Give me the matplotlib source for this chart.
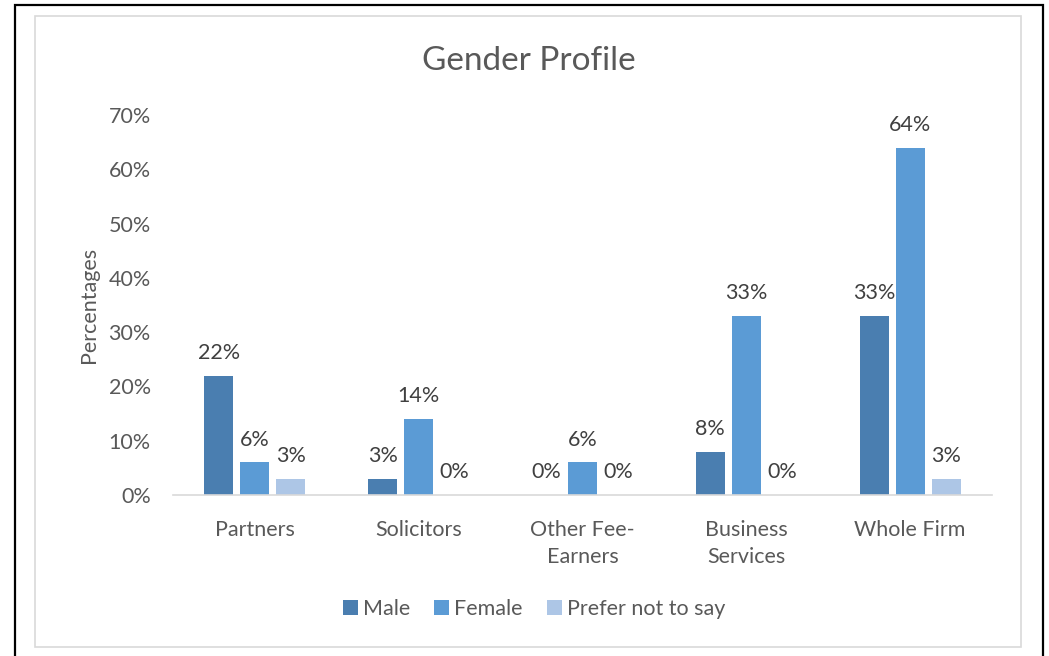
import numpy as np
import matplotlib
matplotlib.use('Agg')
import matplotlib.pyplot as plt
from matplotlib.patches import Rectangle

categories = ['Partners', 'Solicitors', 'Other Fee-\nEarners', 'Business\nServices', 'Whole Firm']
male = [22, 3, 0, 8, 33]
female = [6, 14, 6, 33, 64]
prefer_not = [3, 0, 0, 0, 3]
series_names = ['Male', 'Female', 'Prefer not to say']
colors = ['#4A7EB0', '#5B9BD5', '#ADC6E6']

plt.rcParams['font.family'] = ['Lato', 'DejaVu Sans']
text_color = '#595959'
fs = 15.5

W, H = 1049, 656
fig = plt.figure(figsize=(W / 100, H / 100), dpi=100)

# outer black frame and inner grey chart-area frame
fig.patches.append(Rectangle((15 / W, -0.02), (1043 - 15) / W, 1 - 5 / H + 0.02,
                             transform=fig.transFigure, fill=False,
                             edgecolor='black', linewidth=1.6))
fig.patches.append(Rectangle((35 / W, 1 - 647 / H), (1021 - 35) / W, (647 - 16) / H,
                             transform=fig.transFigure, fill=False,
                             edgecolor='#D9D9D9', linewidth=1.2))

ax = fig.add_axes([173 / W, 1 - 495 / H, (992 - 173) / W, (495 - 115) / H])

x = np.arange(len(categories))
width = 0.177
step = 0.22
for i, (vals, name, c) in enumerate(zip([male, female, prefer_not], series_names, colors)):
    pos = x + (i - 1) * step
    ax.bar(pos, vals, width, color=c, label=name)
    for p, v in zip(pos, vals):
        ax.annotate(f'{v}%', (p, v), xytext=(0, 9), textcoords='offset points',
                    ha='center', va='bottom', fontsize=fs, color='#404040')

ax.set_xlim(-0.5, len(categories) - 0.5)
ax.set_ylim(0, 70)
ax.set_yticks(range(0, 71, 10))
ax.set_yticklabels([f'{t}%' for t in range(0, 71, 10)])
ax.set_xticks(x)
ax.set_xticklabels(categories, linespacing=1.45)
ax.tick_params(axis='both', length=0, labelsize=fs, labelcolor=text_color)
ax.tick_params(axis='x', pad=18)
ax.tick_params(axis='y', pad=16)
for s in ['top', 'right', 'left']:
    ax.spines[s].set_visible(False)
ax.spines['bottom'].set_color('#D9D9D9')
ax.spines['bottom'].set_linewidth(1.2)

ax.set_ylabel('Percentages', fontsize=fs, color=text_color, labelpad=7)
fig.text(529 / W, 1 - 61 / H, 'Gender Profile', ha='center', va='center',
         fontsize=24, color=text_color)

fig.legend(loc='center', bbox_to_anchor=(534 / W, 1 - 609 / H), ncol=3,
           frameon=False, fontsize=fs, labelcolor=text_color,
           handlelength=0.7, handleheight=0.7, handletextpad=0.25, columnspacing=1.1)

fig.savefig('out.png', dpi=100)
